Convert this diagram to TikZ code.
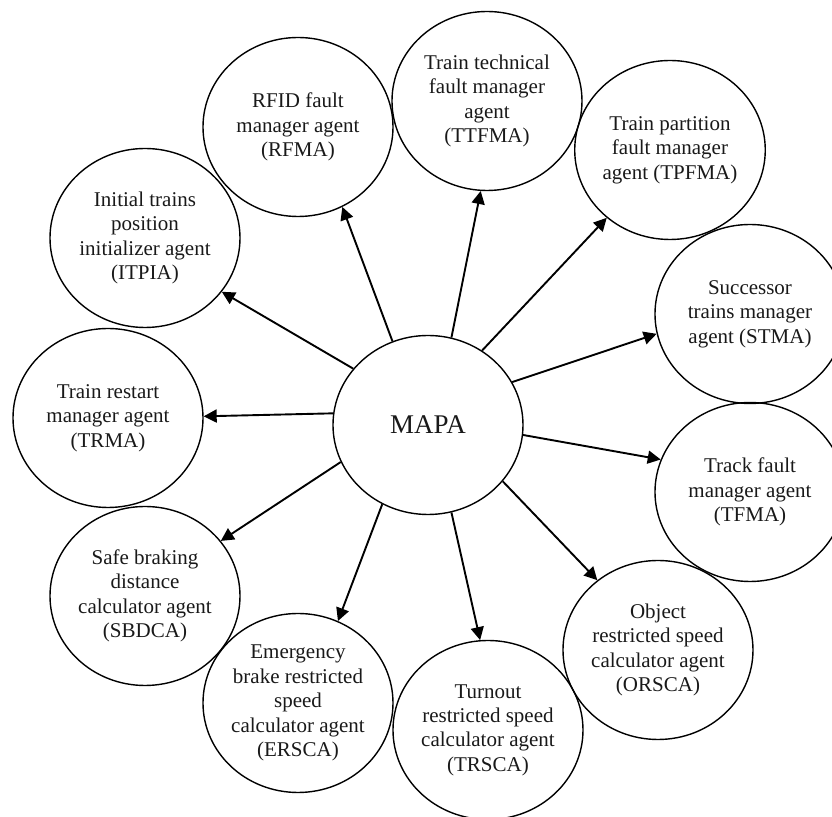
\documentclass[tikz,border=0pt]{standalone}
\usepackage{fontspec}
\setmainfont{Liberation Serif}
\usetikzlibrary{shapes.geometric,arrows.meta}
\tikzset{
  agent/.style={ellipse, draw=black, line width=0.7pt, minimum width=95pt, minimum height=89.5pt,
    inner sep=0pt, align=center, text=black!90, font=\fontsize{10.5}{12.2}\selectfont},
  link/.style={line width=0.95pt, -{Triangle[length=6.5pt,width=6.5pt]}}
}
\begin{document}
\begin{tikzpicture}[x=0.5pt,y=-0.5pt]
\useasboundingbox (0,0) rectangle (832,817);
\node[agent, font=\fontsize{13.5}{15}\selectfont] (mapa) at (428,425) {MAPA};
\node[agent] (rfma) at (298,127) {RFID fault\\manager agent\\(RFMA)};
\node[agent] (ttfma) at (487,101) {Train technical\\fault manager\\agent\\(TTFMA)};
\node[agent] (tpfma) at (670,150) {Train partition\\fault manager\\agent (TPFMA)};
\node[agent] (stma) at (750,314) {Successor\\trains manager\\agent (STMA)};
\node[agent] (tfma) at (750,492) {Track fault\\manager agent\\(TFMA)};
\node[agent] (orsca) at (658,650) {Object\\restricted speed\\calculator agent\\(ORSCA)};
\node[agent] (trsca) at (488,730) {Turnout\\restricted speed\\calculator agent\\(TRSCA)};
\node[agent] (ersca) at (298,703) {Emergency\\brake restricted\\speed\\calculator agent\\(ERSCA)};
\node[agent] (sbdca) at (145,596) {Safe braking\\distance\\calculator agent\\(SBDCA)};
\node[agent] (trma) at (108,418) {Train restart\\manager agent\\(TRMA)};
\node[agent] (itpia) at (145,238) {Initial trains\\position\\initializer agent\\(ITPIA)};
\draw[link] (mapa.113.1) -- (rfma.-61.2);
\draw[link] (mapa.143.3) -- (itpia.-35.5);
\draw[link] (mapa.75.4) -- (ttfma.-94.4);
\draw[link] (mapa.54) -- (tpfma.-133.3);
\draw[link] (mapa.27.4) -- (stma.192.5);
\draw[link] (mapa.-6) -- (tfma.160.6);
\draw[link] (mapa.-37.2) -- (orsca.131);
\draw[link] (mapa.-75.1) -- (trsca.95.8);
\draw[link] (mapa.240.4) -- (ersca.64.8);
\draw[link] (mapa.203) -- (sbdca.36.7);
\draw[link] (mapa.173.4) -- (trma.1.2);
\end{tikzpicture}
\end{document}
